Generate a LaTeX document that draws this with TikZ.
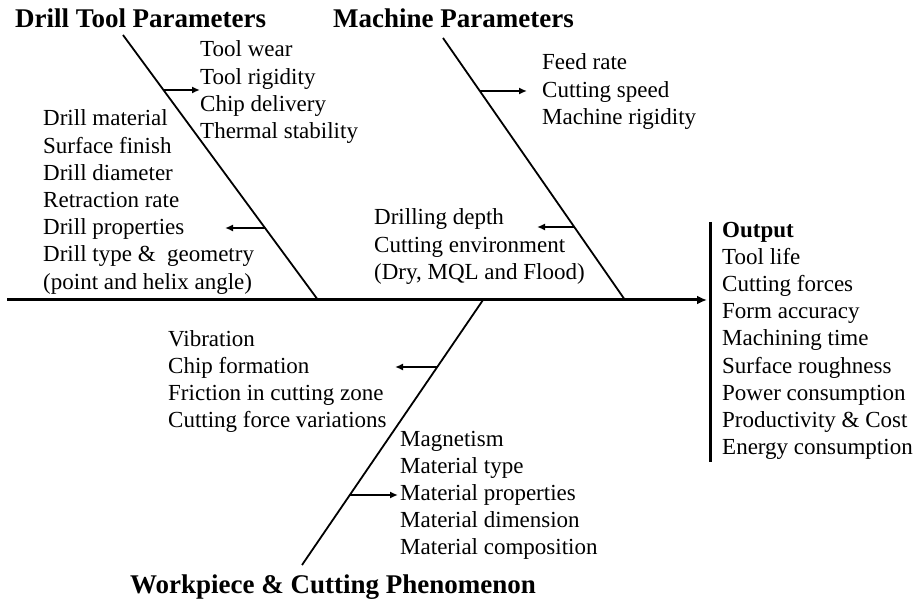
\documentclass[tikz,border=0pt]{standalone}
\usepackage{fontspec}
\setmainfont{Liberation Serif}
\usetikzlibrary{positioning,arrows.meta,calc}

\begin{document}
\begin{tikzpicture}[x=1pt,y=-1pt,
      bone/.style={line width=1.8pt},
      twig/.style={line width=1.8pt,-{Latex[length=8pt,width=7pt]}},
      head/.style={font=\fontsize{27}{32}\selectfont\bfseries,anchor=base west,inner sep=0pt},
      items/.style={font=\fontsize{23}{27.2}\selectfont,align=left,anchor=base west,inner sep=0pt}]
    \useasboundingbox (0,0) rectangle (913,601);
    % spine and output bar
    \coordinate (tail) at (7,300);
    \coordinate (tip) at (707,300);
    \coordinate (bartop) at (710,222);
    \coordinate (barbot) at (710,462);
    \draw[line width=3pt,-{Latex[length=10pt,width=9pt]}] (tail) -- (tip);
    \draw[line width=3pt] (bartop) -- (barbot);
    % bones
    \coordinate (dt1) at (123,35);  \coordinate (dt2) at (318,300);
    \coordinate (mp1) at (443,38);  \coordinate (mp2) at (625,300);
    \coordinate (wp1) at (483,300); \coordinate (wp2) at (302,565);
    \foreach \a/\b in {dt1/dt2, mp1/mp2, wp1/wp2}
      \draw[bone] (\a) -- (\b);
    % category heads
    \node[head] (hdrill) at (15,28) {Drill Tool Parameters};
    \node[head] (hmach) at (333,28) {Machine Parameters};
    \node[head] (hwork) at (130,593) {Workpiece \& Cutting Phenomenon};
    % cause lists (placed at the baseline of their last line)
    \node[items] (tools) at (200,138.6) {Tool wear\\Tool rigidity\\Chip delivery\\Thermal stability};
    \node[items] (drill) at (43,289.2) {Drill material\\Surface finish\\Drill diameter\\Retraction rate\\Drill properties\\Drill type~\&~ geometry\\(point and helix angle)};
    \node[items] (machine) at (542,124.4) {Feed rate\\Cutting speed\\Machine rigidity};
    \node[items] (cutenv) at (374,279.4) {Drilling depth\\Cutting environment\\(Dry, MQL and Flood)};
    \node[items] (phenom) at (168,427.6) {Vibration\\Chip formation\\Friction in cutting zone\\Cutting force variations};
    \node[items] (material) at (400,554.8) {Magnetism\\Material type\\Material properties\\Material dimension\\Material composition};
    \node[items] (output) at (722,454.6) {\textbf{Output}\\Tool life\\Cutting forces\\Form accuracy\\Machining time\\Surface roughness\\Power consumption\\Productivity \& Cost\\Energy consumption};
    % twigs
    \coordinate (t1a) at (163,90);  \coordinate (t1b) at (200,90);
    \coordinate (t2a) at (265,228); \coordinate (t2b) at (225,228);
    \coordinate (t3a) at (480,91);  \coordinate (t3b) at (527,91);
    \coordinate (t4a) at (574,227); \coordinate (t4b) at (537,227);
    \coordinate (t5a) at (437,367); \coordinate (t5b) at (395,367);
    \coordinate (t6a) at (350,495); \coordinate (t6b) at (398,495);
    \foreach \i in {1,...,6}
      \draw[twig] (t\i a) -- (t\i b);
  \end{tikzpicture}
\end{document}
